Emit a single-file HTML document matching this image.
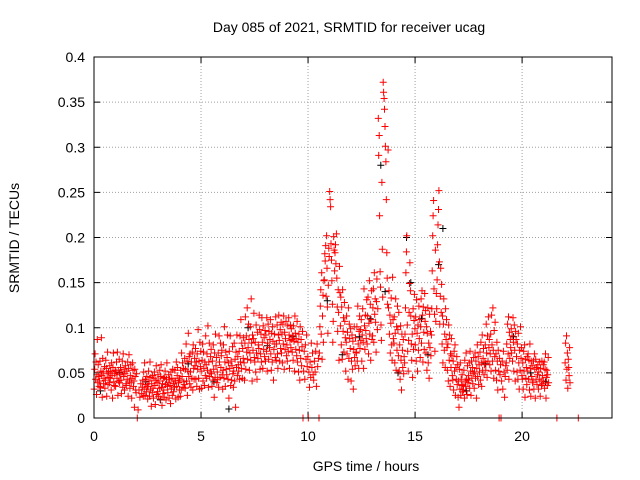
<!DOCTYPE html>
<html><head><meta charset="utf-8"><style>
html,body{margin:0;padding:0;background:#fff}
svg{display:block;font-family:"Liberation Sans",sans-serif}
</style></head><body>
<svg id="chart" width="640" height="480" viewBox="0 0 640 480">
<rect width="640" height="480" fill="#fff"/>
<text x="349" y="32" font-size="14" text-anchor="middle">Day 085 of 2021, SRMTID for receiver ucag</text>
<text x="366" y="471" font-size="14" text-anchor="middle">GPS time / hours</text>
<text transform="translate(19,238) rotate(-90)" font-size="14" text-anchor="middle">SRMTID / TECUs</text>
<g id="grid"></g>
<g id="axes"></g>
<g id="marks"></g>
<rect x="94" y="57" width="518" height="361" fill="none" stroke="#000" stroke-width="1"/>
</svg>
<script>
// Bins are 0.25 h wide; values in units of 0.01 TECU
const binStarts = [0,0.25,0.5,0.75,1,1.25,1.5,1.75,2,2.25,2.5,2.75,3,3.25,3.5,3.75,4,4.25,4.5,4.75,5,5.25,5.5,5.75,6,6.25,6.5,6.75,7,7.25,7.5,7.75,8,8.25,8.5,8.75,9,9.25,9.5,9.75,10,10.25,10.5,10.75,11,11.25,11.5,11.75,12,12.25,12.5,12.75,13,13.25,13.5,13.75,14,14.25,14.5,14.75,15,15.25,15.5,15.75,16,16.25,16.5,16.75,17,17.25,17.5,17.75,18,18.25,18.5,18.75,19,19.25,19.5,19.75,20,20.25,20.5,20.75,21,21.5,22,22.5];
const binValues = [
[3.2,5.4,7.1,4.3,6.2,2.6,4.8,8.7,3.9,5.9,4.6,3.5],[4.1,6.3,3.4,5.2,8.9,4.7,2.3,6.6,5.1,3.8,4.4,5.7],[3.3,4.2,6.4,5.5,2.4,4.9,7.3,3.7,5.1,4.5,3.9,5.8],[4.4,5.2,3.1,6.1,4.7,2.2,5.6,7.2,4.0,3.6,4.9,5.3],
[3.5,5.1,6.2,4.4,7.3,2.5,5.3,4.1,6.5,3.9,4.8,5.6],[4.2,2.7,5.1,6.3,3.4,7.1,4.6,5.4,3.1,4.9,5.8,3.8],[3.6,5.2,4.3,6.2,2.4,5.5,7.0,4.1,3.3,4.7,5.9,3.9],[2.2,4.4,6.1,5.3,3.5,4.1,1.2,5.4,4.6,3.1,2.8,4.9],
[0,0.9,3.1,2.3,3.8,2.7],[3.4,4.2,2.4,5.1,3.2,6.1,2.5,4.3,3.7,2.9,4.6,3.5],[2.1,3.5,5.2,4.1,2.4,6.2,3.1,4.5,1.3,3.8,2.8,4.7],[3.3,2.2,4.4,5.1,3.6,1.5,4.2,5.8,2.6,3.9,2.9,4.8],
[2.4,4.1,3.3,5.3,2.1,4.6,5.9,3.4,1.4,3.8,2.7,4.4],[3.1,2.3,4.5,5.2,3.7,2.0,4.3,6.1,3.5,2.8,3.9,4.8],[2.2,4.3,3.6,1.6,5.1,3.2,4.4,2.5,5.4,3.8,2.9,4.1],[3.4,5.3,4.1,2.1,6.2,3.5,4.7,5.6,2.3,3.9,4.4,3.1],
[4.2,2.4,5.3,3.1,7.2,4.6,6.1,3.4,5.5,4.0,3.7,6.6],[3.3,5.4,8.2,4.1,6.3,2.5,5.2,9.4,4.6,6.8,3.8,7.1],[5.1,3.4,6.2,4.4,7.3,3.1,8.1,5.5,4.3,6.6,5.8,7.7],[4.3,6.2,3.5,7.1,5.4,9.8,4.4,6.3,3.2,8.4,5.7,7.4],
[5.2,3.3,6.4,8.2,4.1,7.3,5.5,3.6,6.2,4.7,9.1,5.9],[4.4,7.1,5.3,10.2,3.4,6.2,8.3,4.6,5.1,6.8,7.6,4.9],[3.5,6.3,4.2,8.1,5.4,2.3,7.2,4.5,9.3,5.8,6.7,3.9],[5.1,4.3,7.2,3.4,9.1,6.2,4.5,8.3,5.6,6.9,7.5,4.8],
[3.2,5.3,8.1,4.4,10.1,6.2,3.5,7.3,5.4,4.8,6.7,9.2],[4.3,6.1,2.2,7.4,5.5,9.1,3.6,6.3,4.2,5.8,7.9,4.9],[3.4,5.2,8.3,4.1,6.5,1.2,7.3,5.6,9.2,4.7,6.8,5.9],[5.2,7.4,4.3,9.1,6.2,10.9,5.5,8.3,4.4,7.7,6.6,8.9],
[6.1,4.2,8.3,11.2,5.4,9.1,7.3,12.2,6.5,7.8,10.4,8.7],[5.3,7.2,10.1,6.4,13.2,8.3,4.1,9.2,7.5,8.8,11.6,6.7],[6.2,8.4,5.1,10.3,7.2,4.3,9.5,6.6,8.1,7.7,11.4,9.8],[5.4,7.1,9.3,6.2,11.1,8.4,5.5,10.2,7.6,8.9,6.8,9.7],
[6.3,9.2,7.4,11.1,5.2,8.3,10.4,6.5,9.6,7.8,8.7,10.9],[7.1,5.3,9.4,6.2,10.1,8.5,4.2,7.6,9.3,8.2,6.7,11.2],[6.4,8.2,10.3,7.1,5.5,9.2,11.4,8.6,6.3,9.8,7.7,10.6],[7.2,9.3,6.1,10.4,8.2,11.3,5.4,9.5,7.6,8.8,10.7,6.9],
[8.1,6.3,10.2,7.4,11.1,9.2,5.5,8.6,10.3,7.8,9.9,8.7],[7.3,9.1,6.4,10.2,8.5,5.2,11.3,9.4,7.6,8.8,6.9,10.7],[6.2,8.4,5.1,9.3,7.5,4.2,10.1,6.6,8.7,5.8,7.9,9.6],[0,5.2,7.4,4.3,8.1,6.5,9.2,5.7,6.8],
[0,5.1,3.4,6.2,4.5,8.3,5.6,7.2,4.8],[4.2,6.3,5.1,7.4,3.5,8.2,5.7,6.6],[0,7.2,10.1,12.4,14.2,9.3,16.1,6.5,11.3,13.6,8.4,15.2],[15.3,18.2,17.4,19.1,13.5,20.2,16.6,12.3,9.4,14.7,18.8,17.9],
[25.1,24.2,23.4,19.3,17.5,15.2,12.6,8.4,10.7,20.1,18.6,16.3],[18.3,19.2,17.1,20.4,15.5,12.3,9.6,14.2,11.7,6.4,16.8,13.9],[10.2,13.4,8.1,12.3,6.5,14.2,9.6,11.1,7.3,12.8,10.7,8.9],[5.2,8.4,11.3,7.1,9.5,4.3,12.2,6.6,10.4,8.8,7.7,9.9],
[4.1,6.3,9.2,5.4,8.5,3.2,7.6,10.1,6.7,5.8,8.9,7.3],[7.2,10.1,6.3,12.4,8.2,5.5,9.6,11.3,7.7,9.8,8.6,10.9],[6.3,9.2,12.1,8.4,5.5,14.3,10.2,7.6,11.4,9.7,8.8,13.1],[8.2,11.3,13.4,7.1,10.5,15.2,9.3,12.6,6.4,10.9,14.1,8.7],
[9.1,12.2,14.3,8.4,16.1,11.5,13.2,10.6,7.3,12.9,15.4,9.8],[12.1,33.2,29.1,31.3,22.4,16.2,14.5,10.3,8.6,26.1,18.7,13.4],[37.2,36.1,35.4,34.2,32.3,30.1,28.4,24.2,18.3,15.5,12.6,29.7],[12.2,14.1,9.3,11.4,7.2,10.5,13.3,8.1,6.4,15.6,10.9,8.8],
[8.3,11.2,6.1,9.4,13.2,5.3,10.1,7.5,12.4,9.8,6.9,11.7],[5.2,8.1,4.3,10.2,6.4,3.1,9.3,7.5,5.6,8.7,4.9,6.8],[6.1,9.3,12.2,16.1,18.4,20.2,10.3,7.4,5.2,8.6,11.7,14.9],[17.2,14.1,11.3,8.2,6.4,9.3,4.5,12.1,7.6,10.8,13.7,9.9],
[8.1,11.2,6.3,13.1,9.4,5.2,10.3,7.5,12.4,8.8,10.9,6.7],[10.1,13.2,8.3,14.1,11.4,6.2,12.3,9.5,7.6,13.8,10.7,11.9],[7.2,10.1,5.3,9.4,12.2,6.1,8.3,4.4,11.5,7.8,9.6,6.9],[9.2,12.1,16.3,20.2,22.4,24.1,14.3,11.5,7.4,18.6,10.7,13.8],
[12.1,15.3,19.2,21.4,23.1,25.2,17.3,10.4,13.5,16.6,11.7,14.8],[8.2,11.3,6.1,10.4,13.2,7.5,9.3,5.6,12.1,8.7,10.9,7.8],[5.3,8.2,4.1,10.3,6.4,9.2,3.5,7.1,5.6,8.8,6.9,4.7],[4.2,6.3,3.1,7.4,5.2,8.1,2.5,5.6,4.3,6.8,3.7,5.9],
[2.3,4.1,1.2,5.4,3.2,6.1,2.5,4.3,3.6,4.8,2.9,3.7],[3.1,5.3,2.2,6.4,4.1,3.5,7.2,4.3,2.6,5.8,3.9,4.7],[4.2,6.1,3.3,7.4,5.2,2.5,6.3,4.4,5.6,3.8,4.9,6.7],[3.3,5.1,7.2,4.4,6.3,2.2,5.5,8.1,4.6,6.8,3.7,5.9],
[5.1,7.3,4.2,8.4,6.1,3.5,9.2,5.3,6.6,7.7,4.8,5.9],[6.2,8.1,5.3,10.4,7.2,4.5,9.1,6.3,11.2,7.8,8.7,5.9],[7.1,9.3,5.2,11.4,8.1,6.3,12.2,7.5,4.4,9.7,6.8,10.6],[5.3,7.1,4.2,8.4,6.3,3.1,7.5,5.2,0,6.6,4.8,5.9],
[0,4.1,6.3,3.2,7.4,5.1,2.3,4.6,5.8],[6.1,8.2,5.3,10.4,7.1,11.2,4.3,9.5,6.6,8.7,7.8,9.9],[7.2,9.1,6.3,11.1,8.4,5.2,10.3,7.5,4.1,9.6,8.7,6.8],[5.1,8.2,4.3,9.4,6.1,3.2,7.5,5.3,10.1,6.6,7.8,4.7],
[4.3,6.1,3.2,7.4,5.2,8.1,2.3,6.5,4.4,5.6,3.7,6.8],[5.2,7.1,4.3,6.4,3.1,8.2,5.5,2.4,6.3,4.6,5.8,3.9],[4.1,6.3,3.2,7.1,5.4,2.2,6.5,4.3,5.6,3.7,4.8,5.9],[3.2,5.1,4.3,6.2,2.4,5.5,4.1,3.6,6.3,4.7,3.8,5.9],
[4.1,6.2,3.3,5.4,7.1,2.2,4.5,5.3,3.6,4.8,6.7,3.9],[0],[6.1,8.3,4.2,9.1,5.4,7.2,3.3,6.5,5.6,4.7,7.8,3.9],[0]];
const blackTimes = [0.3,1.2,2.4,3.1,4.4,5.6,6.3,7.2,8.1,9.3,10.9,11.6,12.4,12.9,13.4,13.6,14.2,14.6,14.8,15.3,15.6,16.1,16.3,17.4,18.3,19.6,20.4,21.1];
const blackValues = [0.03,0.05,0.04,0.02,0.06,0.04,0.01,0.10,0.08,0.09,0.13,0.07,0.09,0.11,0.28,0.14,0.05,0.20,0.15,0.11,0.07,0.17,0.21,0.03,0.06,0.09,0.05,0.04];
const xTicks = [0,5,10,15,20];
const yTicks = [0,0.05,0.1,0.15,0.2,0.25,0.3,0.35,0.4];
const yTickLabels = ["0","0.05","0.1","0.15","0.2","0.25","0.3","0.35","0.4"];

const X0=94,X1=612,Y0=418,Y1=57,XMAX=24.2,YMAX=0.4;
const xs = t => X0 + t/XMAX*(X1-X0);
const ys = v => Y0 - v/YMAX*(Y0-Y1);
const NS="http://www.w3.org/2000/svg";
function mk(tag, parent){const e=document.createElementNS(NS,tag);parent.appendChild(e);return e;}
const grid=document.getElementById('grid'), axes=document.getElementById('axes'), marks=document.getElementById('marks');

xTicks.forEach(t=>{
  const x=xs(t);
  if(t>0){const g=mk('line',grid);
    
    
    g.setAttribute('x1',x);g.setAttribute('x2',x);g.setAttribute('y1',Y1);g.setAttribute('y2',Y0);
    g.setAttribute('stroke','#a0a0a0');g.setAttribute('stroke-dasharray','1,2');}
  const tk=mk('path',axes);
  
  
  tk.setAttribute('d',`M${x},${Y0}v-6M${x},${Y1}v6`);tk.setAttribute('stroke','#000');
  const tx=mk('text',axes);
  
  
  tx.setAttribute('x',x);tx.setAttribute('y',Y0+23);tx.setAttribute('font-size','14');tx.setAttribute('text-anchor','middle');
  tx.textContent=t;
});
yTicks.forEach((v,i)=>{
  const y=ys(v);
  if(v>0&&v<YMAX){const g=mk('line',grid);
    
    
    g.setAttribute('x1',X0);g.setAttribute('x2',X1);g.setAttribute('y1',y);g.setAttribute('y2',y);
    g.setAttribute('stroke','#a0a0a0');g.setAttribute('stroke-dasharray','1,2');}
  const tk=mk('path',axes);
  
  
  tk.setAttribute('d',`M${X0},${y}h6M${X1},${y}h-6`);tk.setAttribute('stroke','#000');
  const tx=mk('text',axes);
  
  
  tx.setAttribute('x',X0-9);tx.setAttribute('y',y+5);tx.setAttribute('font-size','14');tx.setAttribute('text-anchor','end');
  tx.textContent=yTickLabels[i];
});

let dRed='';
binValues.forEach((vals,b)=>{
  const n=vals.length;
  vals.forEach((v,i)=>{
    const x=xs(binStarts[b]+(i+0.5)*0.25/n), y=ys(v/100);
    dRed+=`M${(x-3.5).toFixed(1)},${y.toFixed(1)}h7M${x.toFixed(1)},${(y-3.5).toFixed(1)}v7`;
  });
});
let dBlack='';
blackTimes.forEach((t,i)=>{
  const x=xs(t), y=ys(blackValues[i]);
  dBlack+=`M${(x-3.5).toFixed(1)},${y.toFixed(1)}h7M${x.toFixed(1)},${(y-3.5).toFixed(1)}v7`;
});
const pb=mk('path',marks);


pb.setAttribute('d',dBlack);pb.setAttribute('stroke','#000');pb.setAttribute('stroke-width','1');
const pr=mk('path',marks);


pr.setAttribute('d',dRed);pr.setAttribute('stroke','#ff0000');pr.setAttribute('stroke-width','1');
</script>
</body></html>
